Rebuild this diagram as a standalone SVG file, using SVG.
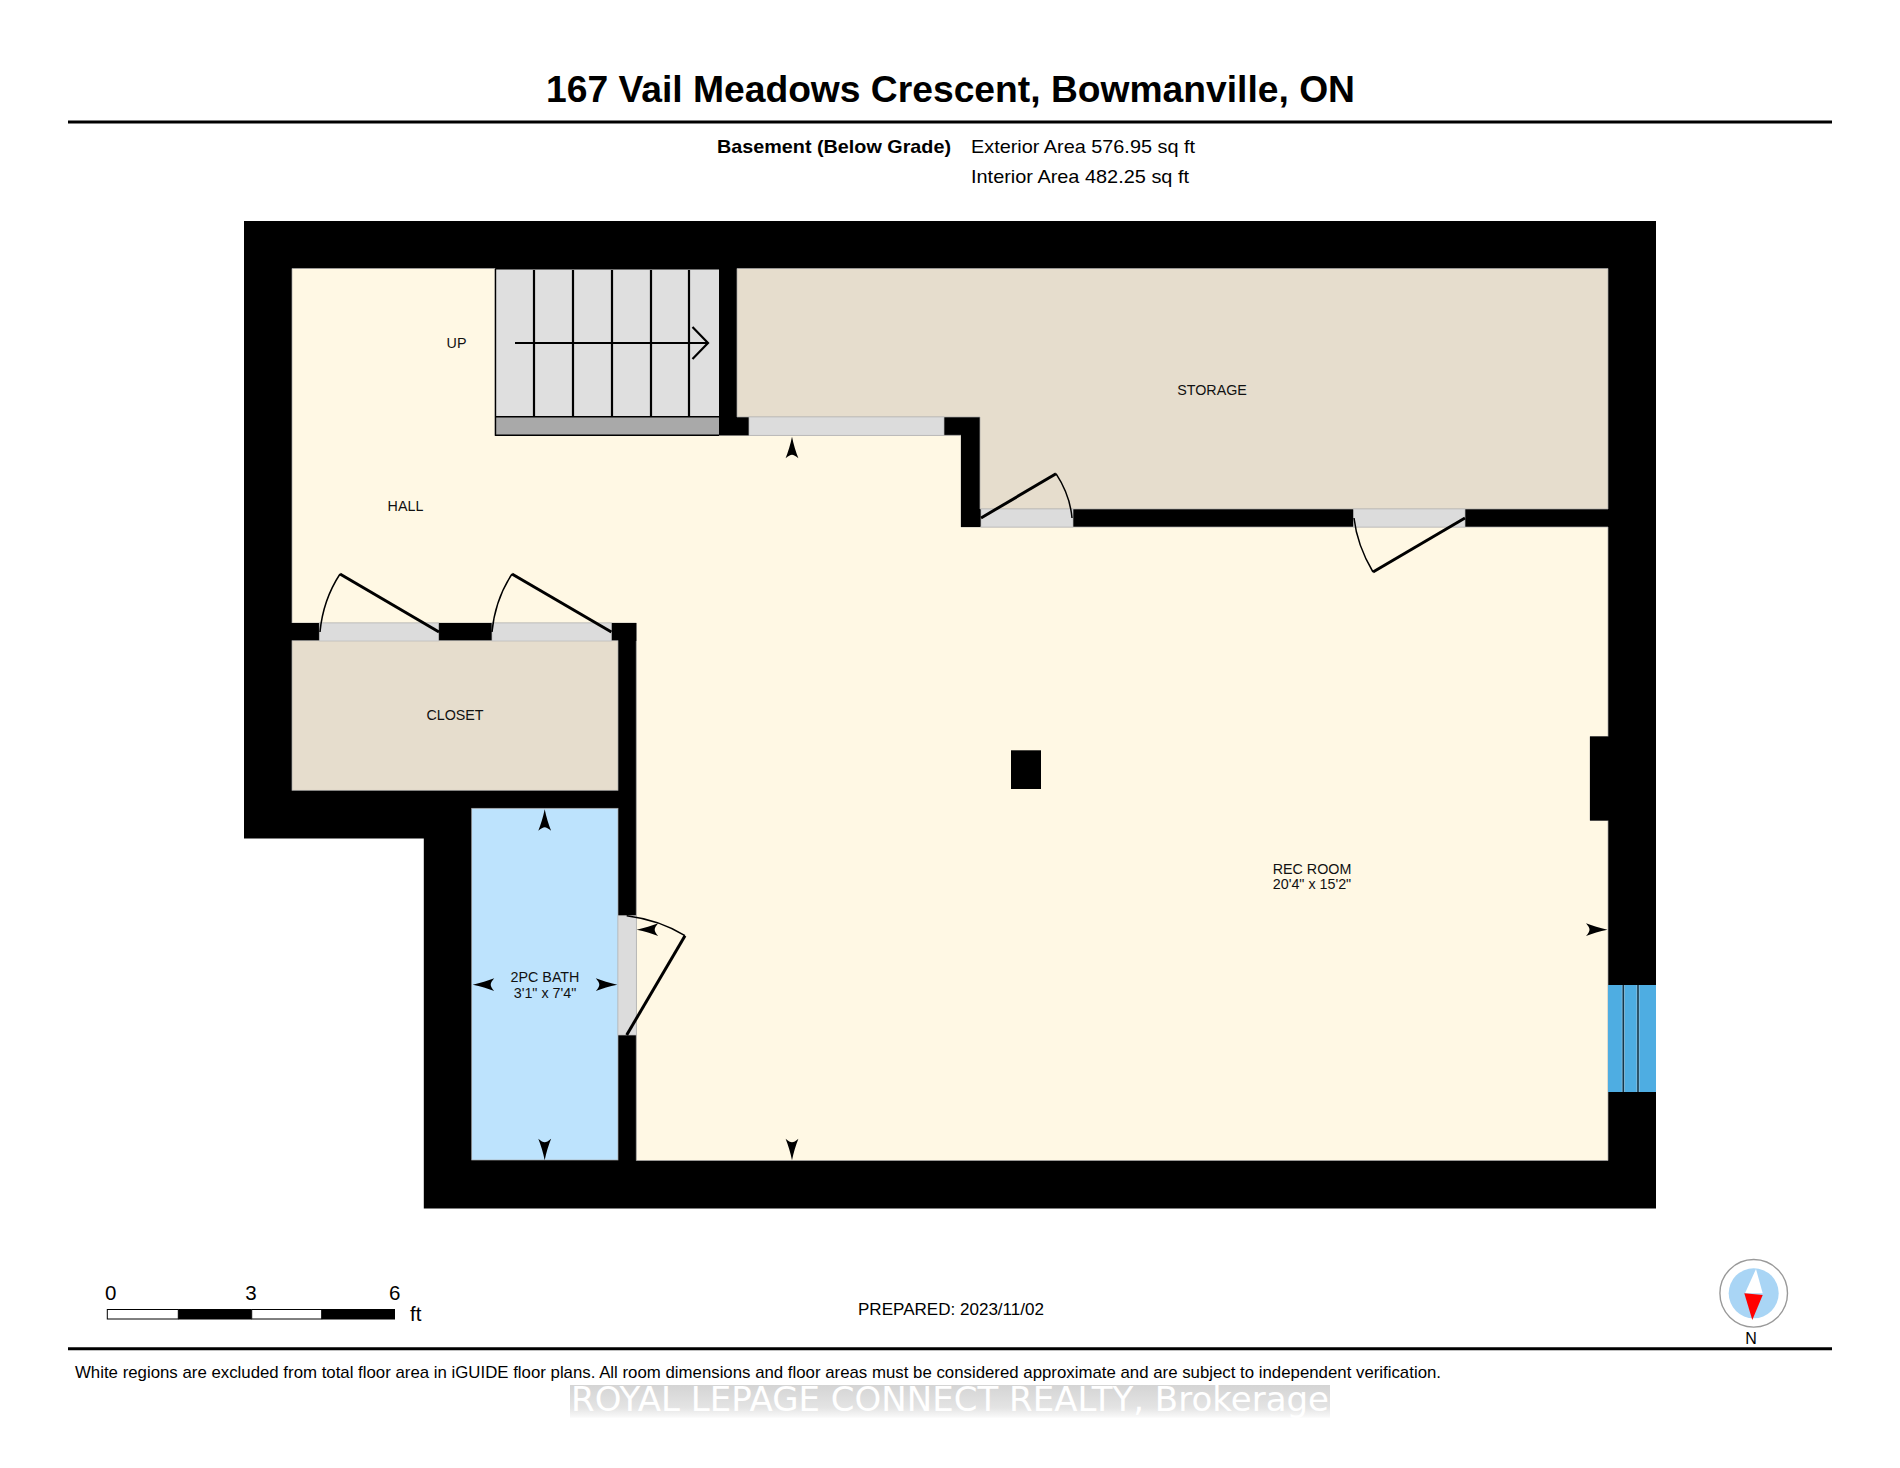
<svg xmlns="http://www.w3.org/2000/svg" width="1900" height="1468" viewBox="0 0 1900 1468">
<style>
text{font-family:"Liberation Sans",Arial,sans-serif;fill:#000}
.room{font-size:14.3px;text-anchor:middle;fill:#111}
.wall{fill:#000}
.edge{stroke:#a8a8a8;stroke-width:.7}
.yellow{fill:#fff8e4}
.tan{fill:#e6ddcd}
.blue{fill:#bde3fd}
.door{fill:#dcdcdc;stroke:#bbb;stroke-width:.7}
.leaf{fill:none;stroke:#000;stroke-width:3}
.arc{fill:none;stroke:#000;stroke-width:1.5}
.tread{stroke:#000;stroke-width:2.2;fill:none}
.hr{stroke:#000;stroke-width:3}
.sc{font-size:20.5px}
.info{font-size:19px}
</style>
<defs>
<path id="arr" d="M0 0C1.6 8 3.8 15 6.4 21.5Q2.4 18 0 18Q-2.4 18-6.4 21.5C-3.8 15-1.6 8 0 0Z" fill="#000"/>
<linearGradient id="wm" x1="0" y1="0" x2="0" y2="1">
<stop offset="0" stop-color="#d4d4d4"/>
<stop offset=".7" stop-color="#e4e4e4"/>
<stop offset="1" stop-color="#fafafa"/>
</linearGradient>
</defs>
<rect width="1900" height="1468" fill="#fff"/>

<g id="header">
<text x="546" y="102" font-size="37.5" font-weight="bold" textLength="809" lengthAdjust="spacingAndGlyphs">167 Vail Meadows Crescent, Bowmanville, ON</text>
<line class="hr" x1="68" y1="122" x2="1832" y2="122"/>
<text class="info" x="717" y="152.8" font-weight="bold" textLength="234" lengthAdjust="spacingAndGlyphs">Basement (Below Grade)</text>
<text class="info" x="971" y="152.8" textLength="224" lengthAdjust="spacingAndGlyphs">Exterior Area 576.95 sq ft</text>
<text class="info" x="971" y="182.7" textLength="218" lengthAdjust="spacingAndGlyphs">Interior Area 482.25 sq ft</text>
</g>

<g id="walls">
<path class="wall" d="M244 221H1656V1208.5H423.8V838.5H244Z"/>
</g>

<g id="hall-rec-room">
<path class="yellow edge" d="M292 268.5H495V435.3H961V527H1608V736.5H1590V820.5H1608V1160.5H636.3V623H292Z"/>
<rect class="wall" x="292" y="623" width="344.3" height="18"/>
<rect class="wall" x="961" y="417" width="19" height="110"/>
<rect class="wall" x="719" y="268" width="18" height="167"/>
<rect class="wall" x="719" y="417" width="30" height="18.3"/>
<rect class="wall" x="1011" y="750.3" width="30" height="38.7"/>
<rect class="wall" x="1590" y="736.5" width="18" height="84"/>
<text class="room" x="405.5" y="511.3">HALL</text>
<text class="room" x="456.5" y="348">UP</text>
<text class="room" x="1312" y="873.5">REC ROOM</text>
<text class="room" x="1312" y="889">20'4" x 15'2"</text>
</g>

<g id="stairs">
<rect x="495" y="269.5" width="224" height="147" fill="#dfdfdf"/>
<rect x="495" y="416.7" width="224" height="18.6" fill="#a9a9a9"/>
<path class="tread" d="M534 270V417M573 270V417M612 270V417M651 270V417M689 270V417"/>
<path d="M495.5 269V435.3H719M495 416.7H719" fill="none" stroke="#000" stroke-width="1.4"/>
<path class="tread" d="M515 343H708M692.5 327L708 343L692.5 359"/>
</g>

<g id="storage">
<path class="tan edge" d="M737 268.5H1608V509H980V417H737Z"/>
<text class="room" x="1212" y="395.3">STORAGE</text>
</g>

<g id="closet">
<rect class="tan edge" x="292" y="640.7" width="326" height="149.6"/>
<text class="room" x="455" y="720.3">CLOSET</text>
</g>

<g id="bath">
<rect class="blue edge" x="471.7" y="808.3" width="146.3" height="351.7"/>
<text class="room" x="545" y="982">2PC BATH</text>
<text class="room" x="545" y="997.7">3'1" x 7'4"</text>
</g>

<g id="window">
<rect x="1608" y="985" width="48" height="107" fill="#4eade2"/>
<path d="M1623.3 985V1092M1638 985V1092" stroke="#9ac6df" stroke-width="3"/>
<path d="M1623.3 985V1092M1638 985V1092" stroke="#12374d" stroke-width="1.6"/>
</g>

<g id="doors">
<rect class="door" x="319.3" y="623" width="119.4" height="18"/>
<rect class="door" x="492" y="623" width="119.4" height="18"/>
<rect class="door" x="749" y="417" width="195" height="18.3"/>
<rect class="door" x="981" y="509" width="92" height="18"/>
<rect class="door" x="1353.5" y="509" width="111.5" height="18"/>
<rect class="door" x="618" y="915.7" width="18.3" height="119.3"/>
<path class="leaf" d="M439 632L340 574"/><path class="arc" d="M340 574Q323 600 320 632"/>
<path class="leaf" d="M611.4 632L512 574"/><path class="arc" d="M512 574Q495 600 492 632"/>
<path class="leaf" d="M981 518L1056 473.7"/><path class="arc" d="M1056 473.7Q1070 495 1072 518"/>
<path class="leaf" d="M1465 518L1373 572"/><path class="arc" d="M1373 572Q1357 545 1354 518"/>
<path class="leaf" d="M626.7 1035L685 935.7"/><path class="arc" d="M685 935.7Q660 920 626.7 915.7"/>
</g>

<g id="dimension-arrows">
<use href="#arr" transform="translate(792 436.7)"/>
<use href="#arr" transform="translate(792 1160.3) rotate(180)"/>
<use href="#arr" transform="translate(636.7 929.7) rotate(-90)"/>
<use href="#arr" transform="translate(1607.5 929.7) rotate(90)"/>
<use href="#arr" transform="translate(544.7 809.3)"/>
<use href="#arr" transform="translate(544.7 1160.3) rotate(180)"/>
<use href="#arr" transform="translate(472.7 984.7) rotate(-90)"/>
<use href="#arr" transform="translate(617.3 984.7) rotate(90)"/>
</g>

<g id="scale">
<rect x="107.3" y="1309.5" width="71" height="9.5" fill="#fff" stroke="#000" stroke-width="1"/>
<rect x="178.3" y="1309" width="73.4" height="10.5" fill="#000"/>
<rect x="251.7" y="1309.5" width="70" height="9.5" fill="#fff" stroke="#000" stroke-width="1"/>
<rect x="321.7" y="1309" width="73.3" height="10.5" fill="#000"/>
<text class="sc" x="110.7" y="1300.3" text-anchor="middle">0</text>
<text class="sc" x="251" y="1300.3" text-anchor="middle">3</text>
<text class="sc" x="394.7" y="1300.3" text-anchor="middle">6</text>
<text class="sc" x="410" y="1321">ft</text>
</g>

<g id="compass">
<circle cx="1753.7" cy="1293.3" r="33.8" fill="#fff" stroke="#999" stroke-width="1.4"/>
<circle cx="1753.7" cy="1293.3" r="25" fill="#a9d5f5"/>
<path d="M1756 1269L1745 1293.3H1762.7Z" fill="#fff"/>
<path d="M1744.3 1293.3L1762.7 1295L1752.3 1320Z" fill="#f00"/>
<text x="1751" y="1344" font-size="16" text-anchor="middle">N</text>
</g>

<g id="footer">
<text x="858" y="1314.7" font-size="16.6" textLength="186" lengthAdjust="spacingAndGlyphs">PREPARED: 2023/11/02</text>
<line class="hr" x1="68" y1="1348.7" x2="1832" y2="1348.7"/>
<text x="75" y="1378" font-size="16.2" textLength="1366" lengthAdjust="spacingAndGlyphs">White regions are excluded from total floor area in iGUIDE floor plans. All room dimensions and floor areas must be considered approximate and are subject to independent verification.</text>
</g>

<g id="watermark">
<rect x="570" y="1385" width="760" height="32.7" fill="url(#wm)"/>
<text x="571" y="1410.7" font-size="33" textLength="758" lengthAdjust="spacingAndGlyphs" style="font-family:'DejaVu Sans',sans-serif;fill:#fff">ROYAL LEPAGE CONNECT REALTY, Brokerage</text>
</g>
</svg>
